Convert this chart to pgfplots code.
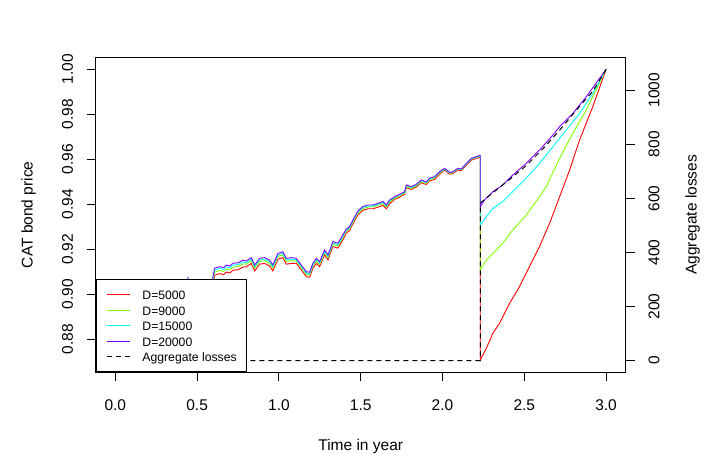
\documentclass[border=0pt]{standalone}
\usepackage{pgfplots}
\usepackage{pgfplotstable}
\pgfplotsset{compat=1.18}
\usepackage{fontspec}
\setmainfont{Liberation Sans}
\definecolor{rRed}{HTML}{FF0000}
\definecolor{rGreen}{HTML}{80FF00}
\definecolor{rCyan}{HTML}{00FFFF}
\definecolor{rPurple}{HTML}{8000FF}

\pgfplotstableread{
t     pD20000 pD15000 pD9000 pD5000
0.000 0.8880 0.8872 0.8863 0.8849
0.050 0.8895 0.8887 0.8878 0.8864
0.100 0.8912 0.8904 0.8895 0.8881
0.150 0.8905 0.8897 0.8888 0.8874
0.200 0.8930 0.8922 0.8913 0.8899
0.250 0.8948 0.8940 0.8931 0.8917
0.300 0.8960 0.8952 0.8943 0.8929
0.350 0.8985 0.8977 0.8968 0.8954
0.400 0.9000 0.8992 0.8983 0.8969
0.430 0.9020 0.9012 0.9003 0.8989
0.444 0.9072 0.9064 0.9055 0.9041
0.455 0.9030 0.9022 0.9013 0.8999
0.500 0.9025 0.9017 0.9008 0.8994
0.550 0.9035 0.9027 0.9018 0.9004
0.590 0.9040 0.9032 0.9023 0.9009
0.597 0.9078 0.9070 0.9061 0.9047
0.607 0.9116 0.9108 0.9099 0.9085
0.638 0.9123 0.9115 0.9106 0.9092
0.660 0.9118 0.9110 0.9101 0.9087
0.679 0.9130 0.9122 0.9113 0.9099
0.700 0.9126 0.9118 0.9109 0.9095
0.719 0.9138 0.9130 0.9121 0.9107
0.750 0.9140 0.9132 0.9123 0.9109
0.780 0.9152 0.9144 0.9135 0.9121
0.800 0.9148 0.9141 0.9134 0.9122
0.831 0.9163 0.9156 0.9149 0.9137
0.852 0.9130 0.9123 0.9116 0.9104
0.882 0.9160 0.9153 0.9146 0.9134
0.913 0.9163 0.9156 0.9149 0.9137
0.943 0.9152 0.9145 0.9138 0.9126
0.963 0.9130 0.9123 0.9116 0.9104
0.994 0.9182 0.9175 0.9168 0.9156
1.024 0.9189 0.9182 0.9175 0.9163
1.045 0.9160 0.9153 0.9146 0.9134
1.076 0.9163 0.9156 0.9149 0.9137
1.106 0.9160 0.9154 0.9148 0.9138
1.137 0.9130 0.9124 0.9118 0.9108
1.168 0.9100 0.9094 0.9088 0.9078
1.188 0.9098 0.9092 0.9086 0.9076
1.208 0.9138 0.9132 0.9126 0.9116
1.229 0.9160 0.9154 0.9148 0.9138
1.249 0.9145 0.9139 0.9133 0.9123
1.279 0.9197 0.9191 0.9185 0.9175
1.300 0.9175 0.9169 0.9163 0.9153
1.330 0.9234 0.9228 0.9222 0.9212
1.361 0.9227 0.9221 0.9215 0.9205
1.391 0.9264 0.9258 0.9252 0.9242
1.412 0.9290 0.9286 0.9281 0.9273
1.432 0.9300 0.9296 0.9291 0.9283
1.452 0.9330 0.9326 0.9321 0.9313
1.483 0.9370 0.9366 0.9361 0.9353
1.513 0.9390 0.9386 0.9381 0.9373
1.544 0.9397 0.9393 0.9388 0.9380
1.575 0.9397 0.9393 0.9388 0.9380
1.605 0.9404 0.9400 0.9395 0.9387
1.636 0.9412 0.9408 0.9403 0.9395
1.657 0.9397 0.9393 0.9388 0.9380
1.677 0.9419 0.9415 0.9410 0.9402
1.707 0.9434 0.9431 0.9427 0.9422
1.738 0.9444 0.9441 0.9437 0.9432
1.768 0.9456 0.9453 0.9449 0.9444
1.779 0.9486 0.9483 0.9479 0.9474
1.809 0.9478 0.9475 0.9471 0.9466
1.840 0.9489 0.9486 0.9482 0.9477
1.870 0.9508 0.9505 0.9501 0.9496
1.901 0.9500 0.9497 0.9493 0.9488
1.921 0.9516 0.9513 0.9509 0.9504
1.952 0.9523 0.9520 0.9516 0.9511
1.982 0.9545 0.9542 0.9538 0.9533
2.013 0.9560 0.9558 0.9556 0.9552
2.043 0.9542 0.9540 0.9538 0.9534
2.064 0.9545 0.9543 0.9541 0.9537
2.094 0.9560 0.9558 0.9556 0.9552
2.115 0.9557 0.9555 0.9553 0.9549
2.146 0.9582 0.9580 0.9578 0.9574
2.176 0.9604 0.9602 0.9600 0.9596
2.207 0.9612 0.9610 0.9608 0.9604
2.231 0.9618 0.9616 0.9614 0.9610
}\pretable

\begin{document}
\begin{tikzpicture}
\path[use as bounding box] (0,0) rectangle (722pt,469pt);
\pgfplotsset{
  common/.style={
    at={(95.7pt,96.7pt)}, anchor=south west,
    scale only axis, width=530pt, height=315pt,
    xmin=-0.12, xmax=3.12,
    tick align=outside, major tick length=9pt,
    tick style={black, line width=0.9pt},
    axis line style={line width=0.9pt},
    /pgf/number format/assume math mode=true,
    /pgf/number format/1000 sep={},
    tick label style={font=\fontsize{15.5}{18}\selectfont},
    label style={font=\fontsize{15.5}{18}\selectfont},
    scaled ticks=false,
  },
}
\begin{axis}[common,
  ymin=0.86533, ymax=1.00533,
  xtick={0,0.5,1,1.5,2,2.5,3},
  ytick={0.88,0.90,0.92,0.94,0.96,0.98,1.00},
  xtick pos=bottom, ytick pos=left,
  xticklabel style={/pgf/number format/.cd, fixed, fixed zerofill, precision=1, /tikz/.cd, anchor=north, inner sep=0pt, yshift=-18pt},
  yticklabel style={/pgf/number format/.cd, fixed, fixed zerofill, precision=2, /tikz/.cd, xshift=-13.4pt, rotate=90, anchor=south, inner sep=0pt},
  xlabel={Time in year},
  xlabel style={at={([yshift=-78.2pt]axis description cs:0.5,0)}, anchor=base, inner sep=0pt},
  ylabel={CAT bond price},
  ylabel style={at={([xshift=-63pt]axis description cs:0,0.5)}, anchor=base, rotate=0, inner sep=0pt},
]
\addplot[rRed, line width=0.9pt] table[x=t, y=pD5000] {\pretable};
\addplot[rRed, line width=0.9pt] coordinates {(2.231,0.9610) (2.231,0.8708) (2.268,0.8760) (2.308,0.8827) (2.349,0.8871) (2.410,0.8960) (2.471,0.9034) (2.532,0.9123) (2.593,0.9212) (2.655,0.9316) (2.716,0.9434) (2.777,0.9552) (2.838,0.9686) (2.919,0.9834) (3.000,1.0000)};
\addplot[rGreen, line width=0.9pt] table[x=t, y=pD9000] {\pretable};
\addplot[rGreen, line width=0.9pt] coordinates {(2.231,0.9614) (2.231,0.9108) (2.268,0.9153) (2.308,0.9182) (2.369,0.9227) (2.430,0.9286) (2.512,0.9352) (2.593,0.9434) (2.634,0.9478) (2.716,0.9604) (2.797,0.9716) (2.879,0.9819) (3.000,1.0000)};
\addplot[rCyan, line width=0.9pt] table[x=t, y=pD15000] {\pretable};
\addplot[rCyan, line width=0.9pt] coordinates {(2.231,0.9616) (2.231,0.9308) (2.268,0.9345) (2.308,0.9382) (2.369,0.9412) (2.430,0.9456) (2.512,0.9516) (2.593,0.9582) (2.675,0.9656) (2.757,0.9730) (2.838,0.9804) (2.919,0.9893) (3.000,1.0000)};
\addplot[rPurple, line width=0.9pt] table[x=t, y=pD20000] {\pretable};
\addplot[rPurple, line width=0.9pt] coordinates {(2.231,0.9618) (2.231,0.9389) (2.257,0.9419) (2.288,0.9441) (2.308,0.9456) (2.369,0.9486) (2.430,0.9530) (2.512,0.9582) (2.593,0.9641) (2.675,0.9708) (2.716,0.9745) (2.797,0.9804) (2.879,0.9878) (3.000,1.0000)};
\end{axis}
\begin{axis}[common,
  ymin=-43.66, ymax=1121.8,
  axis x line=none, axis y line*=right,
  ytick={0,200,400,600,800,1000},
  yticklabel style={xshift=13.6pt, rotate=90, anchor=north, inner sep=0pt},
  ylabel={Aggregate losses},
  ylabel style={at={([xshift=71pt]axis description cs:1,0.5)}, anchor=base, rotate=0, inner sep=0pt},
  legend style={at={(0,0)}, anchor=south west, draw=black, line width=0.9pt, fill=white,
    inner xsep=0pt, inner ysep=9.1pt, row sep=3.3pt, column sep=0pt,
    font=\fontsize{12.2}{14}\selectfont,
    nodes={inner sep=0pt, text height=11.2pt, text depth=1pt}},
  legend cell align=left,
  legend image code/.code={\path[draw=none, fill=none] (0pt,0pt) -- (46.3pt,0pt); \draw[#1] (11.3pt,0pt) -- (34.3pt,0pt);},
]
\addplot[black, line width=1pt, dash pattern=on 5pt off 4pt, forget plot] coordinates {(0,0) (2.231,0) (2.231,580) (2.237,585.7) (2.308,620.5) (2.410,669.7) (2.512,721.5) (2.614,783.3) (2.716,852.1) (2.818,926.1) (2.919,996.4) (3.0,1076.7)};
\addlegendimage{rRed, line width=0.9pt}
\addlegendentry{D=5000}
\addlegendimage{rGreen, line width=0.9pt}
\addlegendentry{D=9000}
\addlegendimage{rCyan, line width=0.9pt}
\addlegendentry{D=15000}
\addlegendimage{rPurple, line width=0.9pt}
\addlegendentry{D=20000}
\addlegendimage{black, line width=0.9pt, dash pattern=on 5pt off 4pt}
\addlegendentry{Aggregate losses\hspace*{10pt}}
\end{axis}
\end{tikzpicture}
\end{document}
